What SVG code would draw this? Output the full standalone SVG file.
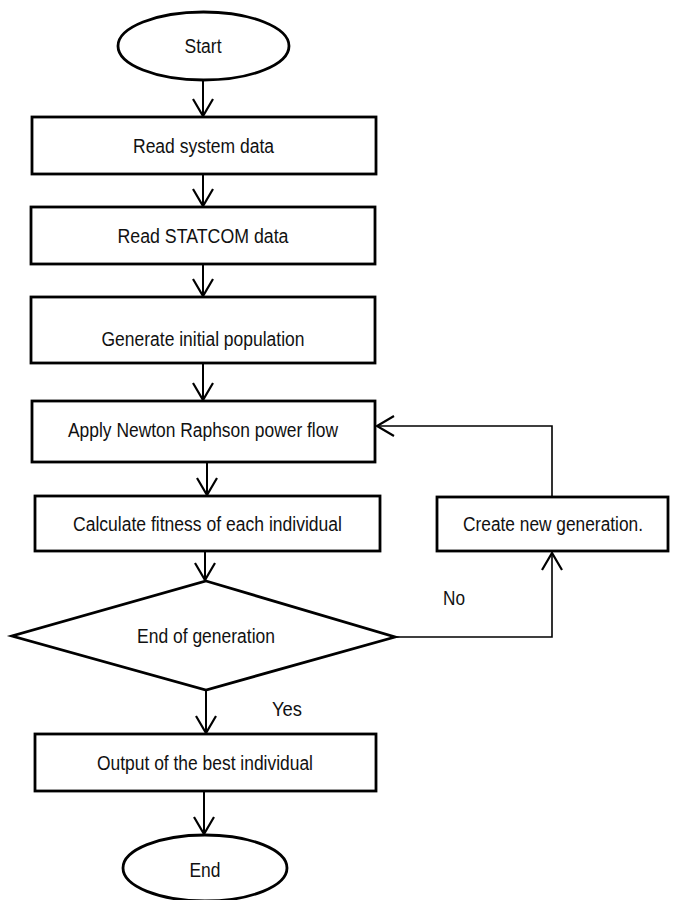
<svg xmlns="http://www.w3.org/2000/svg" width="675" height="900" viewBox="0 0 675 900">
<style>
.shape{fill:#fff;stroke:#000;stroke-width:2.8}
.lbl{font-family:"Liberation Sans",Arial,sans-serif;font-size:19.5px;fill:#111;text-anchor:middle}
.con{fill:none;stroke:#000;stroke-width:2}
.thin{fill:none;stroke:#000;stroke-width:1.6}
</style>
<defs>
<marker id="arr" markerUnits="userSpaceOnUse" markerWidth="24" markerHeight="24" viewBox="-20 -12 22 24" refX="0" refY="0" orient="auto">
<path d="M-17,-10 L0,0 L-17,10" fill="none" stroke="#000" stroke-width="2.2"/>
</marker>
</defs>
<rect width="675" height="900" fill="#fff"/>
<g id="connectors">
<line class="con" x1="203" y1="80" x2="203" y2="116" marker-end="url(#arr)"/>
<line class="con" x1="203" y1="174" x2="203" y2="206" marker-end="url(#arr)"/>
<line class="con" x1="203" y1="264" x2="203" y2="296" marker-end="url(#arr)"/>
<line class="con" x1="203" y1="363" x2="203" y2="400" marker-end="url(#arr)"/>
<line class="con" x1="207" y1="462" x2="207" y2="495" marker-end="url(#arr)"/>
<line class="con" x1="205" y1="551" x2="205" y2="580" marker-end="url(#arr)"/>
<line class="con" x1="206" y1="690" x2="206" y2="733" marker-end="url(#arr)"/>
<line class="con" x1="204" y1="791" x2="204" y2="834" marker-end="url(#arr)"/>
<polyline class="thin" points="395,637 552,637 552,553" marker-end="url(#arr)"/>
<polyline class="thin" points="552,497 552,426 377,426" marker-end="url(#arr)"/>
</g>
<g id="start">
<ellipse class="shape" cx="203.5" cy="46" rx="85.5" ry="34"/>
<text class="lbl" x="203" y="53" textLength="37" lengthAdjust="spacingAndGlyphs">Start</text>
</g>
<g id="read-system">
<rect class="shape" x="32" y="117" width="344" height="57"/>
<text class="lbl" x="203.5" y="153" textLength="141" lengthAdjust="spacingAndGlyphs">Read system data</text>
</g>
<g id="read-statcom">
<rect class="shape" x="31" y="207" width="344" height="57"/>
<text class="lbl" x="203" y="243" textLength="171" lengthAdjust="spacingAndGlyphs">Read STATCOM data</text>
</g>
<g id="generate">
<rect class="shape" x="31" y="297" width="344" height="66"/>
<text class="lbl" x="203" y="346" textLength="203" lengthAdjust="spacingAndGlyphs">Generate initial population</text>
</g>
<g id="newton">
<rect class="shape" x="32" y="401" width="343" height="61"/>
<text class="lbl" x="203" y="437" textLength="270" lengthAdjust="spacingAndGlyphs">Apply Newton Raphson power flow</text>
</g>
<g id="fitness">
<rect class="shape" x="35" y="496" width="345" height="55"/>
<text class="lbl" x="207.5" y="531" textLength="269" lengthAdjust="spacingAndGlyphs">Calculate fitness of each individual</text>
</g>
<g id="create">
<rect class="shape" x="437" y="497" width="231" height="54"/>
<text class="lbl" x="553" y="531" textLength="180" lengthAdjust="spacingAndGlyphs">Create new generation.</text>
</g>
<g id="decision">
<polygon class="shape" points="206,581 395,637 206,690 12,636"/>
<text class="lbl" x="206" y="643" textLength="138" lengthAdjust="spacingAndGlyphs">End of generation</text>
</g>
<text class="lbl" x="454" y="605" textLength="22" lengthAdjust="spacingAndGlyphs">No</text>
<text class="lbl" x="287" y="716" textLength="30" lengthAdjust="spacingAndGlyphs">Yes</text>
<g id="output">
<rect class="shape" x="35" y="734" width="341" height="57"/>
<text class="lbl" x="205" y="770" textLength="216" lengthAdjust="spacingAndGlyphs">Output of the best individual</text>
</g>
<g id="end">
<ellipse class="shape" cx="205" cy="868" rx="82" ry="33"/>
<text class="lbl" x="205" y="877" textLength="31" lengthAdjust="spacingAndGlyphs">End</text>
</g>
</svg>
